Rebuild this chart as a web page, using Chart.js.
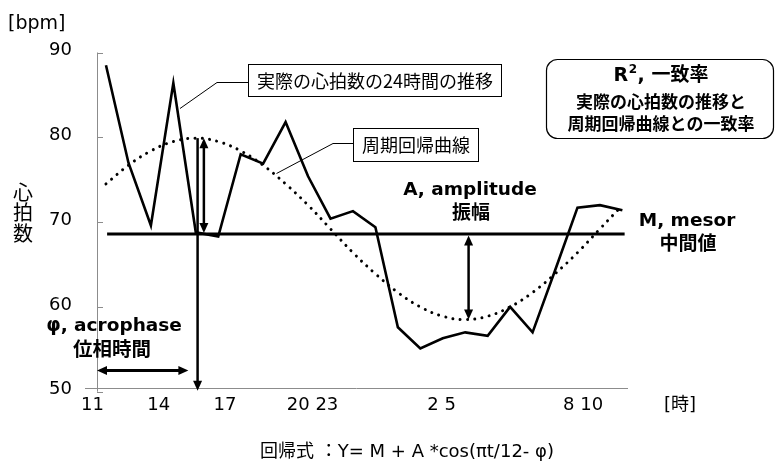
<!DOCTYPE html>
<html>
<head>
<meta charset="utf-8">
<script src="https://cdn.jsdelivr.net/npm/chart.js@4/dist/chart.umd.min.js"></script>
<style>
  html, body { margin: 0; padding: 0; background: #ffffff; }
  #wrap { width: 777px; height: 469px; position: relative; }
</style>
</head>
<body>
<div id="wrap"><canvas id="c" width="777" height="469"></canvas></div>
<script>
// Hourly heart rate over 24 hours, starting at 11:00
const hours = ['11','12','13','14','15','16','17','18','19','20','21','22','23','0','1','2','3','4','5','6','7','8','9','10'];
const heartRate = [88.5, 77.0, 69.6, 86.4, 68.8, 68.3, 78.0, 76.9, 81.8, 75.4, 70.4, 71.3,
                   69.4, 57.6, 55.1, 56.3, 57.0, 56.6, 60.0, 57.0, 64.3, 71.7, 72.0, 71.4];
// Fitted cosinor curve at the same hours
const cosinorFit = [74.5, 76.7, 78.4, 79.5, 79.9, 79.5, 78.4, 76.7, 74.5, 72.0, 69.2, 66.4,
                    63.9, 61.7, 60.0, 58.9, 58.5, 58.9, 60.0, 61.7, 63.9, 66.4, 69.2, 72.0];
const mesor = 68.6;
const acrophaseAt = 4.08;   // hours after 11:00
const troughAt = 16.15;
const yTicks = [50, 60, 70, 80, 90];
const xTickLabels = ['11', '14', '17', '20 23', '2 5', '8 10'];
const xTickAt = [-0.6, 2.35, 5.3, 9.2, 14.95, 21.25];

const SANS = '"DejaVu Sans", "Noto Sans CJK JP", sans-serif';
const JP = '"Noto Sans CJK JP", "DejaVu Sans", sans-serif';

function head(ctx, x, y, dx, dy, len, half) {
  const bx = x - dx * len, by = y - dy * len;
  ctx.beginPath();
  ctx.moveTo(x, y);
  ctx.lineTo(bx - dy * half, by + dx * half);
  ctx.lineTo(bx + dy * half, by - dx * half);
  ctx.closePath();
  ctx.fill();
}
function arrow(ctx, x1, y1, x2, y2, both, w) {
  const L = Math.hypot(x2 - x1, y2 - y1), dx = (x2 - x1) / L, dy = (y2 - y1) / L;
  const len = 10, half = 4.5;
  ctx.lineWidth = w;
  ctx.beginPath();
  ctx.moveTo(both ? x1 + dx * len * 0.8 : x1, both ? y1 + dy * len * 0.8 : y1);
  ctx.lineTo(x2 - dx * len * 0.8, y2 - dy * len * 0.8);
  ctx.stroke();
  head(ctx, x2, y2, dx, dy, len, half);
  if (both) head(ctx, x1, y1, -dx, -dy, len, half);
}
function text(ctx, s, x, y, font, align) {
  ctx.font = font;
  ctx.textAlign = align || 'center';
  ctx.textBaseline = 'middle';
  ctx.fillText(s, x, y);
}

const decorations = {
  id: 'decorations',
  afterDatasetsDraw(chart) {
    const ctx = chart.ctx, xs = chart.scales.x, ys = chart.scales.y, area = chart.chartArea;
    ctx.save();
    ctx.fillStyle = '#000';
    ctx.strokeStyle = '#000';

    // y axis with inward tick marks
    ctx.strokeStyle = '#8c8c8c';
    ctx.lineWidth = 1;
    ctx.beginPath();
    ctx.moveTo(area.left + 0.5, ys.getPixelForValue(90));
    ctx.lineTo(area.left + 0.5, ys.getPixelForValue(50));
    yTicks.forEach(v => {
      const py = Math.round(ys.getPixelForValue(v)) + 0.5;
      ctx.moveTo(area.left, py);
      ctx.lineTo(area.left + 6, py);
    });
    ctx.stroke();
    yTicks.forEach(v => text(ctx, String(v), area.left - 25, ys.getPixelForValue(v) - 2, '18px ' + SANS, 'right'));

    // x axis line and hour labels
    const axisY = Math.round(ys.getPixelForValue(50) - 4) + 0.5;
    ctx.beginPath();
    ctx.moveTo(area.left - 12, axisY);
    ctx.lineTo(area.right, axisY);
    ctx.stroke();
    xTickLabels.forEach((s, i) => text(ctx, s, xs.getPixelForValue(xTickAt[i]), 405, '18px ' + SANS));
    text(ctx, '[時]', 664, 405, '18px ' + SANS, 'left');

    // axis titles
    text(ctx, '[bpm]', 8, 24, '19px ' + SANS, 'left');
    ['心', '拍', '数'].forEach((ch, i) => text(ctx, ch, 23, 192 + i * 20.5, '20px ' + JP));

    ctx.strokeStyle = '#000';
    ctx.fillStyle = '#000';

    // acrophase markers
    const peak = Math.max(...cosinorFit), trough = Math.min(...cosinorFit);
    const ax = xs.getPixelForValue(acrophaseAt);
    arrow(ctx, ax, ys.getPixelForValue(peak), ax, ys.getPixelForValue(50) - 1, false, 2.5);
    const ax2 = xs.getPixelForValue(acrophaseAt + 0.28);
    arrow(ctx, ax2, ys.getPixelForValue(peak), ax2, ys.getPixelForValue(mesor) - 1, true, 2.5);
    arrow(ctx, area.left, ys.getPixelForValue(52.5), xs.getPixelForValue(3.67), ys.getPixelForValue(52.5), true, 3);

    // amplitude marker
    const tx = xs.getPixelForValue(troughAt);
    arrow(ctx, tx, ys.getPixelForValue(mesor) + 1.5, tx, ys.getPixelForValue(trough), true, 2.5);

    // annotation labels
    text(ctx, 'A, amplitude', 470, 190, 'bold 18.5px ' + SANS);
    text(ctx, '振幅', 471, 212, 'bold 19px ' + JP);
    text(ctx, 'M, mesor', 687, 221, 'bold 18.5px ' + SANS);
    text(ctx, '中間値', 688, 243, 'bold 19px ' + JP);
    text(ctx, 'φ, acrophase', 114, 326, 'bold 18.5px ' + SANS);
    text(ctx, '位相時間', 112, 349, 'bold 19.5px ' + JP);

    // callout: measured series
    ctx.lineWidth = 1;
    ctx.beginPath();
    ctx.moveTo(180, 108.5); ctx.lineTo(217, 82.5); ctx.lineTo(248.5, 82.5);
    ctx.moveTo(276.5, 173.5); ctx.lineTo(333, 143.5); ctx.lineTo(353.5, 143.5);
    ctx.stroke();
    ctx.strokeRect(248.5, 64.5, 253, 32);
    text(ctx, '実際の心拍数の24時間の推移', 375, 81, '18px ' + JP);
    ctx.strokeRect(353.5, 128.5, 125, 33);
    text(ctx, '周期回帰曲線', 416, 145, '18px ' + JP);

    // rounded box for R²
    ctx.lineWidth = 1.2;
    ctx.beginPath();
    ctx.roundRect(546.5, 59.5, 227, 79, 11);
    ctx.stroke();
    ctx.font = 'bold 19px ' + SANS;
    const wR = ctx.measureText('R').width;
    ctx.font = 'bold 12px ' + SANS;
    const w2 = ctx.measureText('2').width;
    ctx.font = 'bold 19px ' + SANS;
    const wRest = ctx.measureText(', 一致率').width;
    let sx = 661 - (wR + w2 + 1 + wRest) / 2;
    text(ctx, 'R', sx, 76, 'bold 19px ' + SANS, 'left');
    text(ctx, '2', sx + wR + 0.5, 70, 'bold 12px ' + SANS, 'left');
    text(ctx, ', 一致率', sx + wR + w2 + 1, 76, 'bold 19px ' + SANS, 'left');
    text(ctx, '実際の心拍数の推移と', 661, 102, 'bold 17px ' + JP);
    text(ctx, '周期回帰曲線との一致率', 661, 123.5, 'bold 17px ' + JP);

    // regression formula
    text(ctx, '回帰式 ：Y= M + A *cos(πt/12- φ)', 407, 452, '18px ' + SANS);
    ctx.restore();
  }
};

const toPoints = arr => arr.map((v, i) => ({ x: i, y: v }));

new Chart(document.getElementById('c'), {
  type: 'line',
  data: {
    labels: hours,
    datasets: [
      {
        label: '実際の心拍数',
        data: toPoints(heartRate),
        borderColor: '#000',
        borderWidth: 2.6,
        pointRadius: 0,
        tension: 0
      },
      {
        label: '周期回帰曲線',
        data: toPoints(cosinorFit),
        borderColor: '#000',
        borderWidth: 3,
        borderDash: [0.01, 7.3],
        borderCapStyle: 'round',
        pointRadius: 0,
        tension: 0.4
      },
      {
        label: 'mesor',
        data: [{ x: 0.05, y: mesor }, { x: 23.1, y: mesor }],
        borderColor: '#000',
        borderWidth: 3,
        pointRadius: 0
      }
    ]
  },
  options: {
    responsive: false,
    animation: false,
    events: [],
    layout: { padding: { left: 97, right: 149, top: 52.5, bottom: 77.3 } },
    plugins: { legend: { display: false }, tooltip: { enabled: false } },
    scales: {
      x: { type: 'linear', min: -0.4, max: 23.25, display: false },
      y: { min: 50, max: 90, display: false }
    }
  },
  plugins: [decorations]
});
</script>
</body>
</html>
